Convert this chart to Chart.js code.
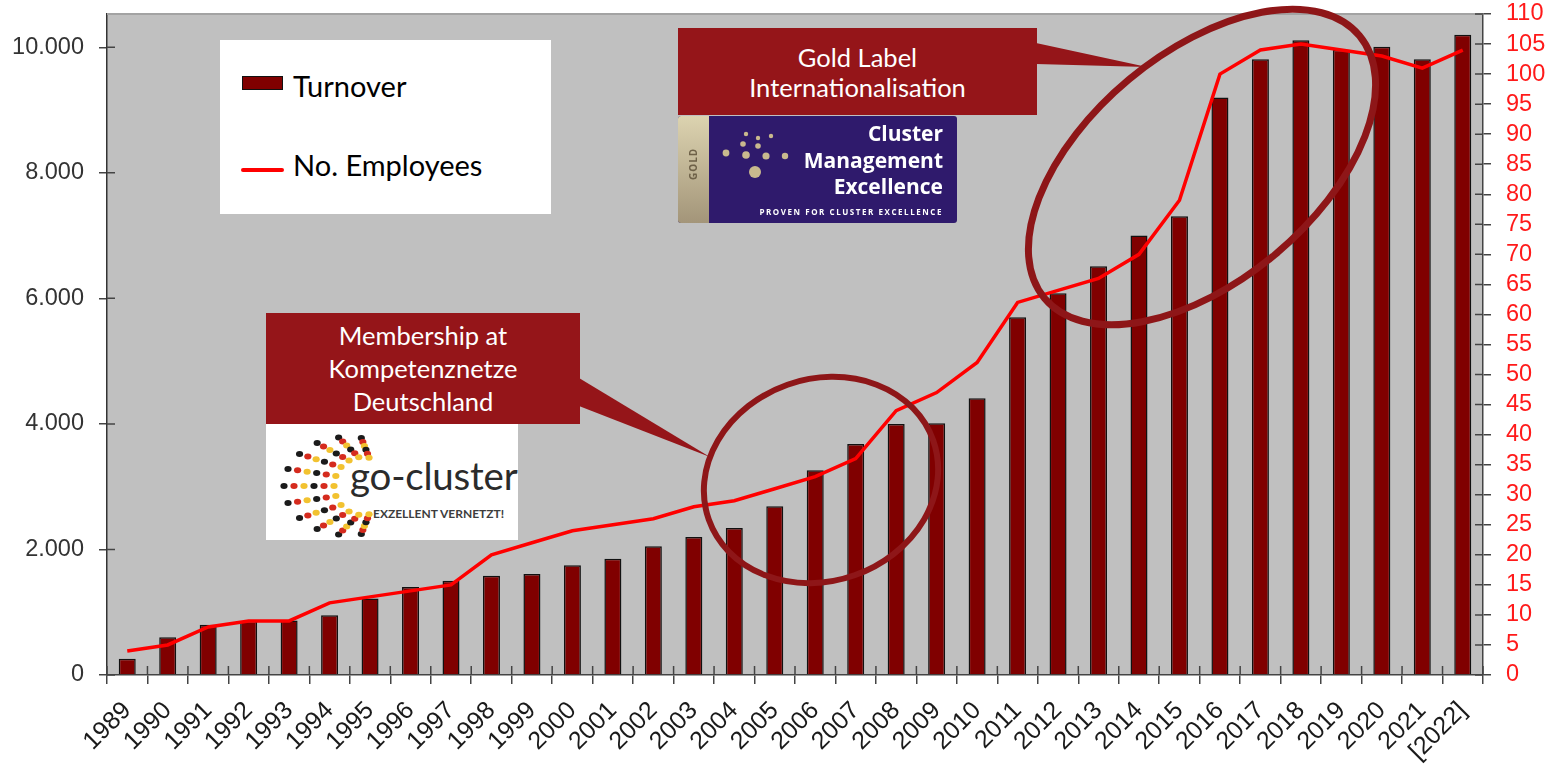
<!DOCTYPE html>
<html>
<head>
<meta charset="utf-8">
<script src="https://cdn.jsdelivr.net/npm/chart.js@4.4.1/dist/chart.umd.min.js"></script>
<style>
  body { margin: 0; background: #fff; }
  #wrap { position: relative; width: 1552px; height: 770px; overflow: hidden; }
  #chart { position: absolute; left: 0; top: 0; }
  .abs { position: absolute; }
  .legend { left: 220px; top: 40px; width: 331px; height: 174px; background: #fff; }
  .lg-text { font-family: Lato, sans-serif; font-size: 29px; line-height: 29px; color: #000; white-space: nowrap; }
  .callout { background: #951519; color: #fff; font-family: Lato, sans-serif; font-size: 25.5px;
    display: flex; flex-direction: column; justify-content: center; align-items: center; text-align: center; }
  .cme { left: 678px; top: 116px; width: 279px; height: 107px; background: #2f1a6c; border-radius: 3px; overflow: hidden; }
  .cme-strip { left: 0; top: 0; width: 31px; height: 107px; background: linear-gradient(#dcd3b0, #a39579); }
  .cme-gold { left: 2px; top: 44px; width: 26px; transform: rotate(-90deg); font: bold 10px "Open Sans", sans-serif;
    letter-spacing: 1px; color: #6e6148; text-align: center; }
  .cme-title { right: 14px; top: 4px; font: bold 21px/26.5px "Open Sans", sans-serif; color: #fff; text-align: right; }
  .cme-sub { right: 14px; top: 90px; font: bold 8px "Open Sans", sans-serif; letter-spacing: 1.55px; color: #fff; white-space: nowrap; }
  .goc { left: 266px; top: 424px; width: 252px; height: 116px; background: #fff; }
  .goc-name { left: 84px; top: 31px; font: 38.5px/40px Lato, sans-serif; color: #2b2b2b; letter-spacing: -0.2px; }
  .goc-sub { left: 107px; top: 82px; font: bold 12px Lato, sans-serif; color: #3d3d3d; white-space: nowrap; }
  svg { position: absolute; left: 0; top: 0; }
</style>
</head>
<body>
<div id="wrap">
  <canvas id="chart" width="1552" height="770"></canvas>

  <div class="abs legend">
    <div class="abs" style="left:22px;top:36px;width:41px;height:14px;box-sizing:border-box;background:#800000;border:1.5px solid #111;"></div>
    <div class="abs lg-text" style="left:73px;top:31px;">Turnover</div>
    <div class="abs" style="left:21px;top:128px;width:43px;height:4px;background:#ff0000;border-radius:2px;"></div>
    <div class="abs lg-text" style="left:73px;top:110px;">No. Employees</div>
  </div>

  <div class="abs callout" style="left:678px;top:28px;width:359px;height:87px;line-height:30px;">
    <div>Gold Label</div><div>Internationalisation</div>
  </div>
  <div class="abs cme">
    <div class="abs cme-strip"></div>
    <div class="abs cme-gold">GOLD</div>
    <div class="abs cme-title">Cluster<br>Management<br>Excellence</div>
    <div class="abs cme-sub">PROVEN FOR CLUSTER EXCELLENCE</div>
  </div>

  <div class="abs callout" style="left:266px;top:313px;width:314px;height:111px;line-height:33px;">
    <div>Membership at</div><div>Kompetenznetze</div><div>Deutschland</div>
  </div>
  <div class="abs goc">
    <div class="abs goc-name">go-cluster</div>
    <div class="abs goc-sub">EXZELLENT VERNETZT!</div>
  </div>

  <svg id="marks" width="1552" height="770"></svg>
</div>

<script>
'use strict';

// data
let years = ['1989','1990','1991','1992','1993','1994','1995','1996','1997','1998','1999','2000',
  '2001','2002','2003','2004','2005','2006','2007','2008','2009','2010','2011','2012',
  '2013','2014','2015','2016','2017','2018','2019','2020','2021','[2022]'];
let turnover = [260, 600, 800, 860, 870, 950, 1220, 1400, 1500, 1580, 1610, 1750,
  1850, 2050, 2200, 2340, 2690, 3260, 3680, 4000, 4010, 4410, 5700, 6080,
  6510, 7000, 7310, 9200, 9810, 10110, 9960, 10010, 9810, 10200];
let employees = [4, 5, 8, 9, 9, 12, 13, 14, 15, 20, 22, 24,
  25, 26, 28, 29, 31, 33, 36, 44, 47, 52, 62, 64,
  66, 70, 79, 100, 104, 105, 104, 103, 101, 104];
let leftTicks = [0, 2000, 4000, 6000, 8000, 10000];
let rightTicks = [0, 5, 10, 15, 20, 25, 30, 35, 40, 45, 50, 55, 60, 65, 70, 75, 80, 85, 90, 95, 100, 105, 110];

Chart.defaults.font.family = '"Liberation Sans", Arial, sans-serif';

function dotted(n) {
  return String(n).replace(/\B(?=(\d{3})+(?!\d))/g, '.');
}

// fixed axis sizes, no extra room for labels sticking out
function fixWidth(w) {
  return s => {
    s.width = w;
    s.paddingTop = 0;
    s.paddingBottom = 0;
  };
}

// grey plot background and light top border
let plotBack = {
  id: 'plotBack',
  beforeDraw(chart) {
    let a = chart.chartArea;
    let ctx = chart.ctx;
    ctx.save();
    ctx.fillStyle = '#c0c0c0';
    ctx.fillRect(a.left, a.top, a.right - a.left, a.bottom - a.top);
    ctx.restore();
  },
  afterDraw(chart) {
    let a = chart.chartArea;
    let ctx = chart.ctx;
    ctx.save();
    ctx.strokeStyle = '#a3a3a3';
    ctx.lineWidth = 2;
    ctx.beginPath();
    ctx.moveTo(a.left, a.top);
    ctx.lineTo(a.right, a.top);
    ctx.stroke();
    ctx.restore();
  }
};

// ticks in the reference cross the axis, chart.js only draws the outer half
let innerTicks = {
  id: 'innerTicks',
  afterDraw(chart) {
    let a = chart.chartArea;
    let ctx = chart.ctx;
    let s = chart.scales;
    ctx.save();
    ctx.strokeStyle = '#444';
    ctx.lineWidth = 1.5;
    ctx.beginPath();
    for (let i = 0; i <= years.length; i++) {
      let px = s.x.getPixelForValue(i - 0.5);
      ctx.moveTo(px, a.bottom);
      ctx.lineTo(px, a.bottom - 9);
    }
    s.y.ticks.forEach(t => {
      let py = s.y.getPixelForValue(t.value);
      ctx.moveTo(a.left, py);
      ctx.lineTo(a.left + 8, py);
    });
    s.y1.ticks.forEach(t => {
      let py = s.y1.getPixelForValue(t.value);
      ctx.moveTo(a.right, py);
      ctx.lineTo(a.right - 8, py);
    });
    ctx.stroke();
    ctx.restore();
  }
};

let ctx = document.getElementById('chart').getContext('2d');
let chart = new Chart(ctx, {
  type: 'bar',
  data: {
    labels: years,
    datasets: [{
      type: 'line',
      label: 'No. Employees',
      data: employees,
      yAxisID: 'y1',
      borderColor: '#ff0000',
      borderWidth: 3.5,
      pointRadius: 0,
      tension: 0,
      order: 0
    }, {
      label: 'Turnover',
      data: turnover,
      yAxisID: 'y',
      backgroundColor: '#800000',
      borderColor: '#111',
      borderWidth: 1.5,
      barPercentage: 0.42,
      categoryPercentage: 1.0,
      order: 1
    }]
  },
  options: {
    responsive: false,
    animation: false,
    layout: { padding: { top: 14, left: 0, right: 0, bottom: 0 } },
    plugins: {
      legend: { display: false },
      tooltip: { enabled: false }
    },
    scales: {
      x: {
        offset: true,
        grid: { offset: true, drawOnChartArea: false, tickLength: 9, color: '#444', lineWidth: 1.5 },
        border: { color: '#444', width: 1.5 },
        ticks: {
          autoSkip: false, minRotation: 45, maxRotation: 45, padding: 12,
          color: '#1a1a1a', font: { size: 25 }
        },
        afterFit: s => {
          s.height = 95;
          s.paddingLeft = 0;
          s.paddingRight = 0;
        }
      },
      y: {
        position: 'left',
        min: 0,
        max: 10530,
        afterBuildTicks: s => { s.ticks = leftTicks.map(v => ({ value: v })); },
        grid: { drawOnChartArea: false, tickLength: 8, color: '#444', lineWidth: 1.5 },
        border: { color: '#333', width: 1.5 },
        ticks: { padding: 15, color: '#333', font: { size: 23.5 }, callback: v => dotted(v) },
        afterFit: fixWidth(107)
      },
      y1: {
        position: 'right',
        min: 0,
        max: 110,
        afterBuildTicks: s => { s.ticks = rightTicks.map(v => ({ value: v })); },
        grid: { drawOnChartArea: false, tickLength: 8, color: '#444', lineWidth: 1.5 },
        border: { color: '#444', width: 1.5 },
        ticks: { autoSkip: false, padding: 15, color: '#ff1a1a', font: { size: 23.5 } },
        afterFit: fixWidth(69)
      }
    }
  },
  plugins: [plotBack, innerTicks]
});

// overlay: callout pointers, circles and logo dots
let svgNS = 'http://www.w3.org/2000/svg';
let svg = document.getElementById('marks');
function add(tag, attrs) {
  let el = document.createElementNS(svgNS, tag);
  for (let k in attrs) el.setAttribute(k, attrs[k]);
  svg.appendChild(el);
  return el;
}

add('polygon', { points: '1036,43 1147,67 1036,64', fill: '#951519' });
add('polygon', { points: '579,378 710,457 579,406', fill: '#951519' });

// go-cluster dots, rows of black / red / gold
let flag = ['#1b1b1b', '#d52b1e', '#f2c230'];
for (let r = 0; r < 6; r++) {
  let cx = 348 + r * 3, cy = 486;
  let rx = 64 - r * 7, ry = 49 - r * 4;
  for (let k = 0; k < 11; k++) {
    let th = (-78 - k * 20.4) * Math.PI / 180;
    add('ellipse', { cx: cx + rx * Math.cos(th), cy: cy + ry * Math.sin(th), rx: 3.6, ry: 3, fill: flag[r % 3] });
  }
}

// cluster management excellence dots
let cmeDots = [[746,134,2.2],[758,138,2.2],[771,136,2.2],[743,144,2.8],[758,146,2.8],[726,153,3.4],[746,155,3.8],
  [766,156,3.6],[785,156,3.2],[755,172,6]];
cmeDots.forEach(d => add('circle', { cx: d[0], cy: d[1], r: d[2], fill: '#c9b98e' }));

add('ellipse', { cx: 1202, cy: 167, rx: 205, ry: 114, fill: 'none', stroke: '#8e1618', 'stroke-width': 7,
  transform: 'rotate(-39.8 1202 167)' });
add('ellipse', { cx: 821, cy: 480, rx: 119, ry: 101, fill: 'none', stroke: '#8e1618', 'stroke-width': 6,
  transform: 'rotate(-19.4 821 480)' });
</script>
</body>
</html>
